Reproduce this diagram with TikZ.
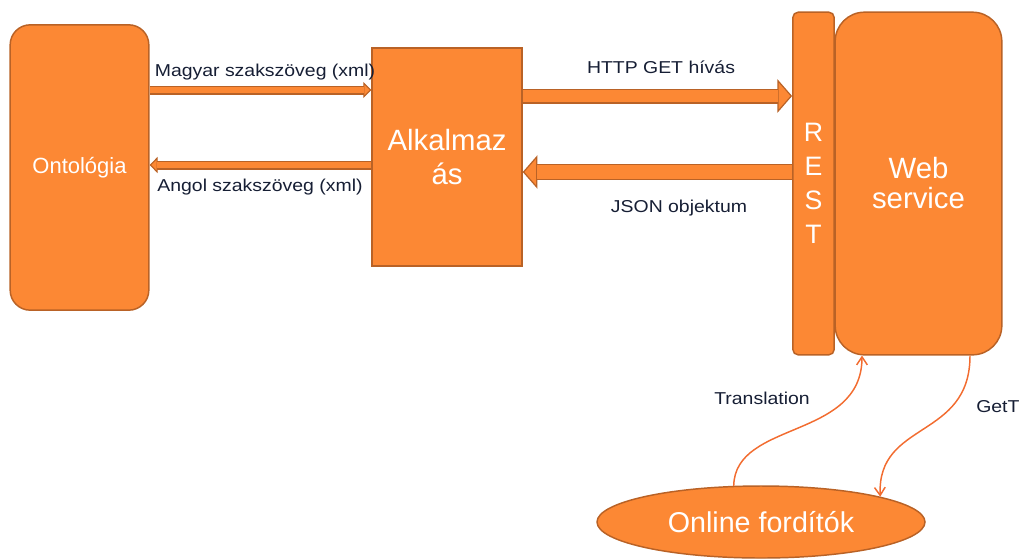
\documentclass[tikz,border=0pt]{standalone}
\usepackage{fontspec}
\setmainfont{Liberation Sans}
\newfontfamily\labelfont[FakeStretch=1.13]{Liberation Sans}
\usetikzlibrary{arrows.meta,shapes.geometric}

\definecolor{warm}{RGB}{252,136,52}
\definecolor{warmedge}{RGB}{185,98,38}
\definecolor{wire}{RGB}{242,108,48}
\definecolor{ink}{RGB}{22,30,52}

\tikzset{
  box/.style={draw=warmedge, fill=warm, line width=1.1pt, text=white, inner sep=0pt},
  lbl/.style={text=ink, inner sep=0pt, font=\labelfont\fontsize{12.9}{15}\selectfont},
  fatline/.style={draw=warmedge, line width=#1},
  fatcore/.style={draw=warm, line width=#1},
  wirearrow/.style={draw=wire, line width=1.1pt, -{Straight Barb[length=6pt,width=8pt]}}
}

\begin{document}
\begin{tikzpicture}[x=0.75pt,y=-0.75pt]
  \useasboundingbox (0,0) rectangle (1020,558);

  % boxes
  \node[box, rounded corners=15pt, minimum width=104pt, minimum height=214pt,
        font=\fontsize{16.5}{19}\selectfont] (onto) at (79.5,167.5) {Ontológia};
  \node[box, minimum width=112.5pt, minimum height=163.5pt, align=center,
        font=\fontsize{22}{25.5}\selectfont] (app) at (447,157) {Alkalmaz\\ás};
  \node[box, rounded corners=4pt, minimum width=31pt, minimum height=257pt, align=center,
        font=\fontsize{20}{25.5}\selectfont] (rest) at (813.5,183.5) {R\\E\\S\\T};
  \node[box, rounded corners=22pt, minimum width=125pt, minimum height=257pt, align=center,
        font=\fontsize{22}{22.5}\selectfont] (ws) at (918.5,183.5) {Web\\service};
  \node[box, ellipse, minimum width=246pt, minimum height=54pt,
        font=\fontsize{21.5}{25}\selectfont] (online) at (761,522) {Online fordítók};

  % ontology <-> application
  \draw[fatline=6.75pt, -{Triangle[length=6pt,width=12pt,line width=0.8pt,fill=warm]}]
     (onto.east |- 0,90) -- (app.west |- 0,90);
  \draw[fatcore=5.2pt, shorten >=5.6pt] (onto.east |- 0,90) -- (app.west |- 0,90);
  \draw[fatline=6.75pt, -{Triangle[length=6pt,width=12pt,line width=0.8pt,fill=warm]}]
     (app.west |- 0,165) -- (onto.east |- 0,165);
  \draw[fatcore=5.2pt, shorten >=5.6pt] (app.west |- 0,165) -- (onto.east |- 0,165);
  \node[lbl] (magyar) at (265,72) {Magyar szakszöveg (xml)};
  \node[lbl] (angol) at (260,187) {Angol szakszöveg (xml)};

  % application <-> REST
  \draw[fatline=11.25pt, -{Triangle[length=11pt,width=25pt,line width=0.9pt,fill=warm]}]
     (app.east |- 0,96) -- (rest.west |- 0,96);
  \draw[fatcore=9.6pt, shorten >=10.5pt] (app.east |- 0,96) -- (rest.west |- 0,96);
  \draw[fatline=12pt, -{Triangle[length=11pt,width=25pt,line width=0.9pt,fill=warm]}]
     (rest.west |- 0,172) -- (app.east |- 0,172);
  \draw[fatcore=10.3pt, shorten >=10.5pt] (rest.west |- 0,172) -- (app.east |- 0,172);
  \node[lbl] (httpget) at (661,67) {HTTP GET hívás};
  \node[lbl] (json) at (679,208) {JSON objektum};

  % web service <-> online translators
  \draw[wirearrow] (online.127) .. controls (735,420) and (862,440) .. (862,0 |- ws.south);
  \draw[wirearrow] (970,0 |- ws.south) .. controls (970,440) and (877,420) .. (online.12);
  \node[lbl] (transl) at (762,398) {Translation};
  \node[lbl, anchor=west] (gettransl) at (976,406) {GetTranslation};
\end{tikzpicture}
\end{document}
